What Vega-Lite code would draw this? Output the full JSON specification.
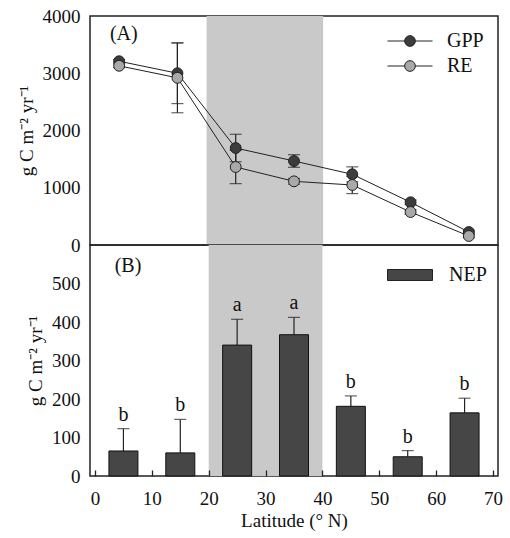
{
  "$schema": "https://vega.github.io/schema/vega-lite/v6.json",
  "padding": {"left": 16, "top": 6, "right": 8, "bottom": 5},
  "background": "white",
  "spacing": 0,
  "bounds": "flush",
  "datasets": {
    "flux": [
      {"lat": 5, "var": "GPP", "val": 3210, "err": 30},
      {"lat": 15, "var": "GPP", "val": 3000, "err": 530},
      {"lat": 25, "var": "GPP", "val": 1694, "err": 240},
      {"lat": 35, "var": "GPP", "val": 1467, "err": 110},
      {"lat": 45, "var": "GPP", "val": 1235, "err": 130},
      {"lat": 55, "var": "GPP", "val": 746, "err": 40},
      {"lat": 65, "var": "GPP", "val": 227, "err": 30},
      {"lat": 5, "var": "RE", "val": 3130, "err": 30},
      {"lat": 15, "var": "RE", "val": 2920, "err": 610},
      {"lat": 25, "var": "RE", "val": 1362, "err": 290},
      {"lat": 35, "var": "RE", "val": 1112, "err": 50},
      {"lat": 45, "var": "RE", "val": 1048, "err": 150},
      {"lat": 55, "var": "RE", "val": 576, "err": 40},
      {"lat": 65, "var": "RE", "val": 157, "err": 30}
    ],
    "nep": [
      {"lat": 5, "var": "NEP", "nep": 65, "upper": 123, "group": "b"},
      {"lat": 15, "var": "NEP", "nep": 60, "upper": 147, "group": "b"},
      {"lat": 25, "var": "NEP", "nep": 340, "upper": 407, "group": "a"},
      {"lat": 35, "var": "NEP", "nep": 367, "upper": 412, "group": "a"},
      {"lat": 45, "var": "NEP", "nep": 181, "upper": 208, "group": "b"},
      {"lat": 55, "var": "NEP", "nep": 50, "upper": 66, "group": "b"},
      {"lat": 65, "var": "NEP", "nep": 164, "upper": 202, "group": "b"}
    ],
    "band": [{"start": 20, "end": 40}],
    "labA": [{"lat": 5.8, "y": 3685, "label": "(A)"}],
    "labB": [{"lat": 5.8, "y": 545, "label": "(B)"}]
  },
  "config": {
    "font": "Liberation Serif",
    "view": {"stroke": "#222", "strokeWidth": 1.5},
    "concat": {"spacing": 0},
    "axis": {
      "labelFont": "Liberation Serif", "labelFontSize": 19, "labelColor": "#111",
      "titleFont": "Liberation Serif", "titleFontSize": 19, "titleFontWeight": "normal", "titleColor": "#111",
      "grid": false, "domain": false, "labelPadding": 10, "format": "d"
    },
    "axisY": {"ticks": false},
    "legend": {
      "labelFont": "Liberation Serif", "labelFontSize": 20, "labelColor": "#111",
      "padding": 0, "symbolStrokeColor": "#222", "symbolStrokeWidth": 1
    }
  },
  "resolve": {"scale": {"fill": "independent"}, "legend": {"fill": "independent"}},
  "vconcat": [
    {
      "width": 408,
      "height": 229,
      "layer": [
        {
          "data": {"name": "band"},
          "mark": {"type": "rect", "color": "#c9c9c9"},
          "encoding": {
            "x": {"field": "start", "type": "quantitative", "scale": {"domain": [0, 70], "nice": false}, "axis": null},
            "x2": {"field": "end"}
          }
        },
        {
          "data": {"name": "flux"},
          "mark": {"type": "errorbar", "ticks": {"size": 12, "color": "#222", "thickness": 1.2}, "rule": {"color": "#222", "strokeWidth": 1.2}},
          "encoding": {
            "x": {"field": "lat", "type": "quantitative"},
            "y": {"field": "val", "type": "quantitative", "scale": {"domain": [0, 4000], "nice": false},
              "axis": {"values": [0, 1000, 2000, 3000, 4000], "format": "d", "labelFont": "Liberation Serif", "title": "g C m⁻² yr⁻¹", "titlePadding": 6}},
            "yError": {"field": "err"},
            "detail": {"field": "var"}
          }
        },
        {
          "data": {"name": "flux"},
          "mark": {"type": "line", "color": "#222", "strokeWidth": 1},
          "encoding": {
            "x": {"field": "lat", "type": "quantitative"},
            "y": {"field": "val", "type": "quantitative"},
            "detail": {"field": "var"}
          }
        },
        {
          "data": {"name": "flux"},
          "mark": {"type": "circle", "size": 118, "opacity": 1, "stroke": "#222", "strokeWidth": 1},
          "encoding": {
            "x": {"field": "lat", "type": "quantitative"},
            "y": {"field": "val", "type": "quantitative"},
            "fill": {
              "field": "var", "type": "nominal",
              "scale": {"domain": ["GPP", "RE"], "range": ["#3c3c3c", "#a9a9a9"]},
              "legend": {
                "title": null, "orient": "none", "legendX": 310, "legendY": 15,
                "symbolType": "M-4.5,0L-1.07,0M1.07,0L4.5,0M-1.07,0A1.07,1.07,0,1,1,1.07,0A1.07,1.07,0,1,1,-1.07,0Z",
                "symbolSize": 100, "labelOffset": 27, "rowPadding": 5, "symbolOpacity": 1
              }
            },
            "order": {"field": "var"}
          }
        },
        {
          "data": {"name": "labA"},
          "mark": {"type": "text", "fontSize": 20, "color": "#111"},
          "encoding": {
            "x": {"field": "lat", "type": "quantitative"},
            "y": {"field": "y", "type": "quantitative"},
            "text": {"field": "label"}
          }
        }
      ]
    },
    {
      "width": 408,
      "height": 231,
      "layer": [
        {
          "data": {"name": "band"},
          "mark": {"type": "rect", "color": "#c9c9c9"},
          "encoding": {
            "x": {"field": "start", "type": "quantitative", "scale": {"domain": [0, 70], "nice": false},
              "axis": {"values": [0, 10, 20, 30, 40, 50, 60, 70], "format": "d", "labelFont": "Liberation Serif", "title": "Latitude (° N)", "ticks": true, "tickSize": 6, "offset": -6, "tickColor": "#222", "tickWidth": 1.3, "tickOpacity": 1, "labelPadding": 13, "titlePadding": 3, "zindex": 1}},
            "x2": {"field": "end"}
          }
        },
        {
          "data": {"name": "nep"},
          "mark": {"type": "rule", "color": "#222", "strokeWidth": 1.2},
          "encoding": {
            "x": {"field": "lat", "type": "quantitative"},
            "y": {"field": "nep", "type": "quantitative", "scale": {"domain": [0, 600], "nice": false},
              "axis": {"values": [0, 100, 200, 300, 400, 500], "format": "d", "labelFont": "Liberation Serif", "title": "g C m⁻² yr⁻¹", "titlePadding": 6}},
            "y2": {"field": "upper"}
          }
        },
        {
          "data": {"name": "nep"},
          "mark": {"type": "tick", "color": "#222", "size": 12, "thickness": 1.2, "orient": "horizontal"},
          "encoding": {
            "x": {"field": "lat", "type": "quantitative"},
            "y": {"field": "upper", "type": "quantitative"}
          }
        },
        {
          "data": {"name": "nep"},
          "mark": {"type": "bar", "width": 29, "stroke": "#111", "strokeWidth": 1},
          "encoding": {
            "x": {"field": "lat", "type": "quantitative"},
            "y": {"field": "nep", "type": "quantitative"},
            "fill": {
              "field": "var", "type": "nominal",
              "scale": {"domain": ["NEP"], "range": ["#464646"]},
              "legend": {
                "title": null, "orient": "none", "legendX": 310, "legendY": 20,
                "symbolType": "M-4.5,-1.1H4.5V1.1H-4.5Z",
                "symbolSize": 100, "labelOffset": 29, "symbolOpacity": 1
              }
            }
          }
        },
        {
          "data": {"name": "nep"},
          "mark": {"type": "text", "fontSize": 20, "color": "#111", "baseline": "bottom", "dy": -4},
          "encoding": {
            "x": {"field": "lat", "type": "quantitative"},
            "y": {"field": "upper", "type": "quantitative"},
            "text": {"field": "group"}
          }
        },
        {
          "data": {"name": "labB"},
          "mark": {"type": "text", "fontSize": 20, "color": "#111"},
          "encoding": {
            "x": {"field": "lat", "type": "quantitative"},
            "y": {"field": "y", "type": "quantitative"},
            "text": {"field": "label"}
          }
        }
      ]
    }
  ]
}
